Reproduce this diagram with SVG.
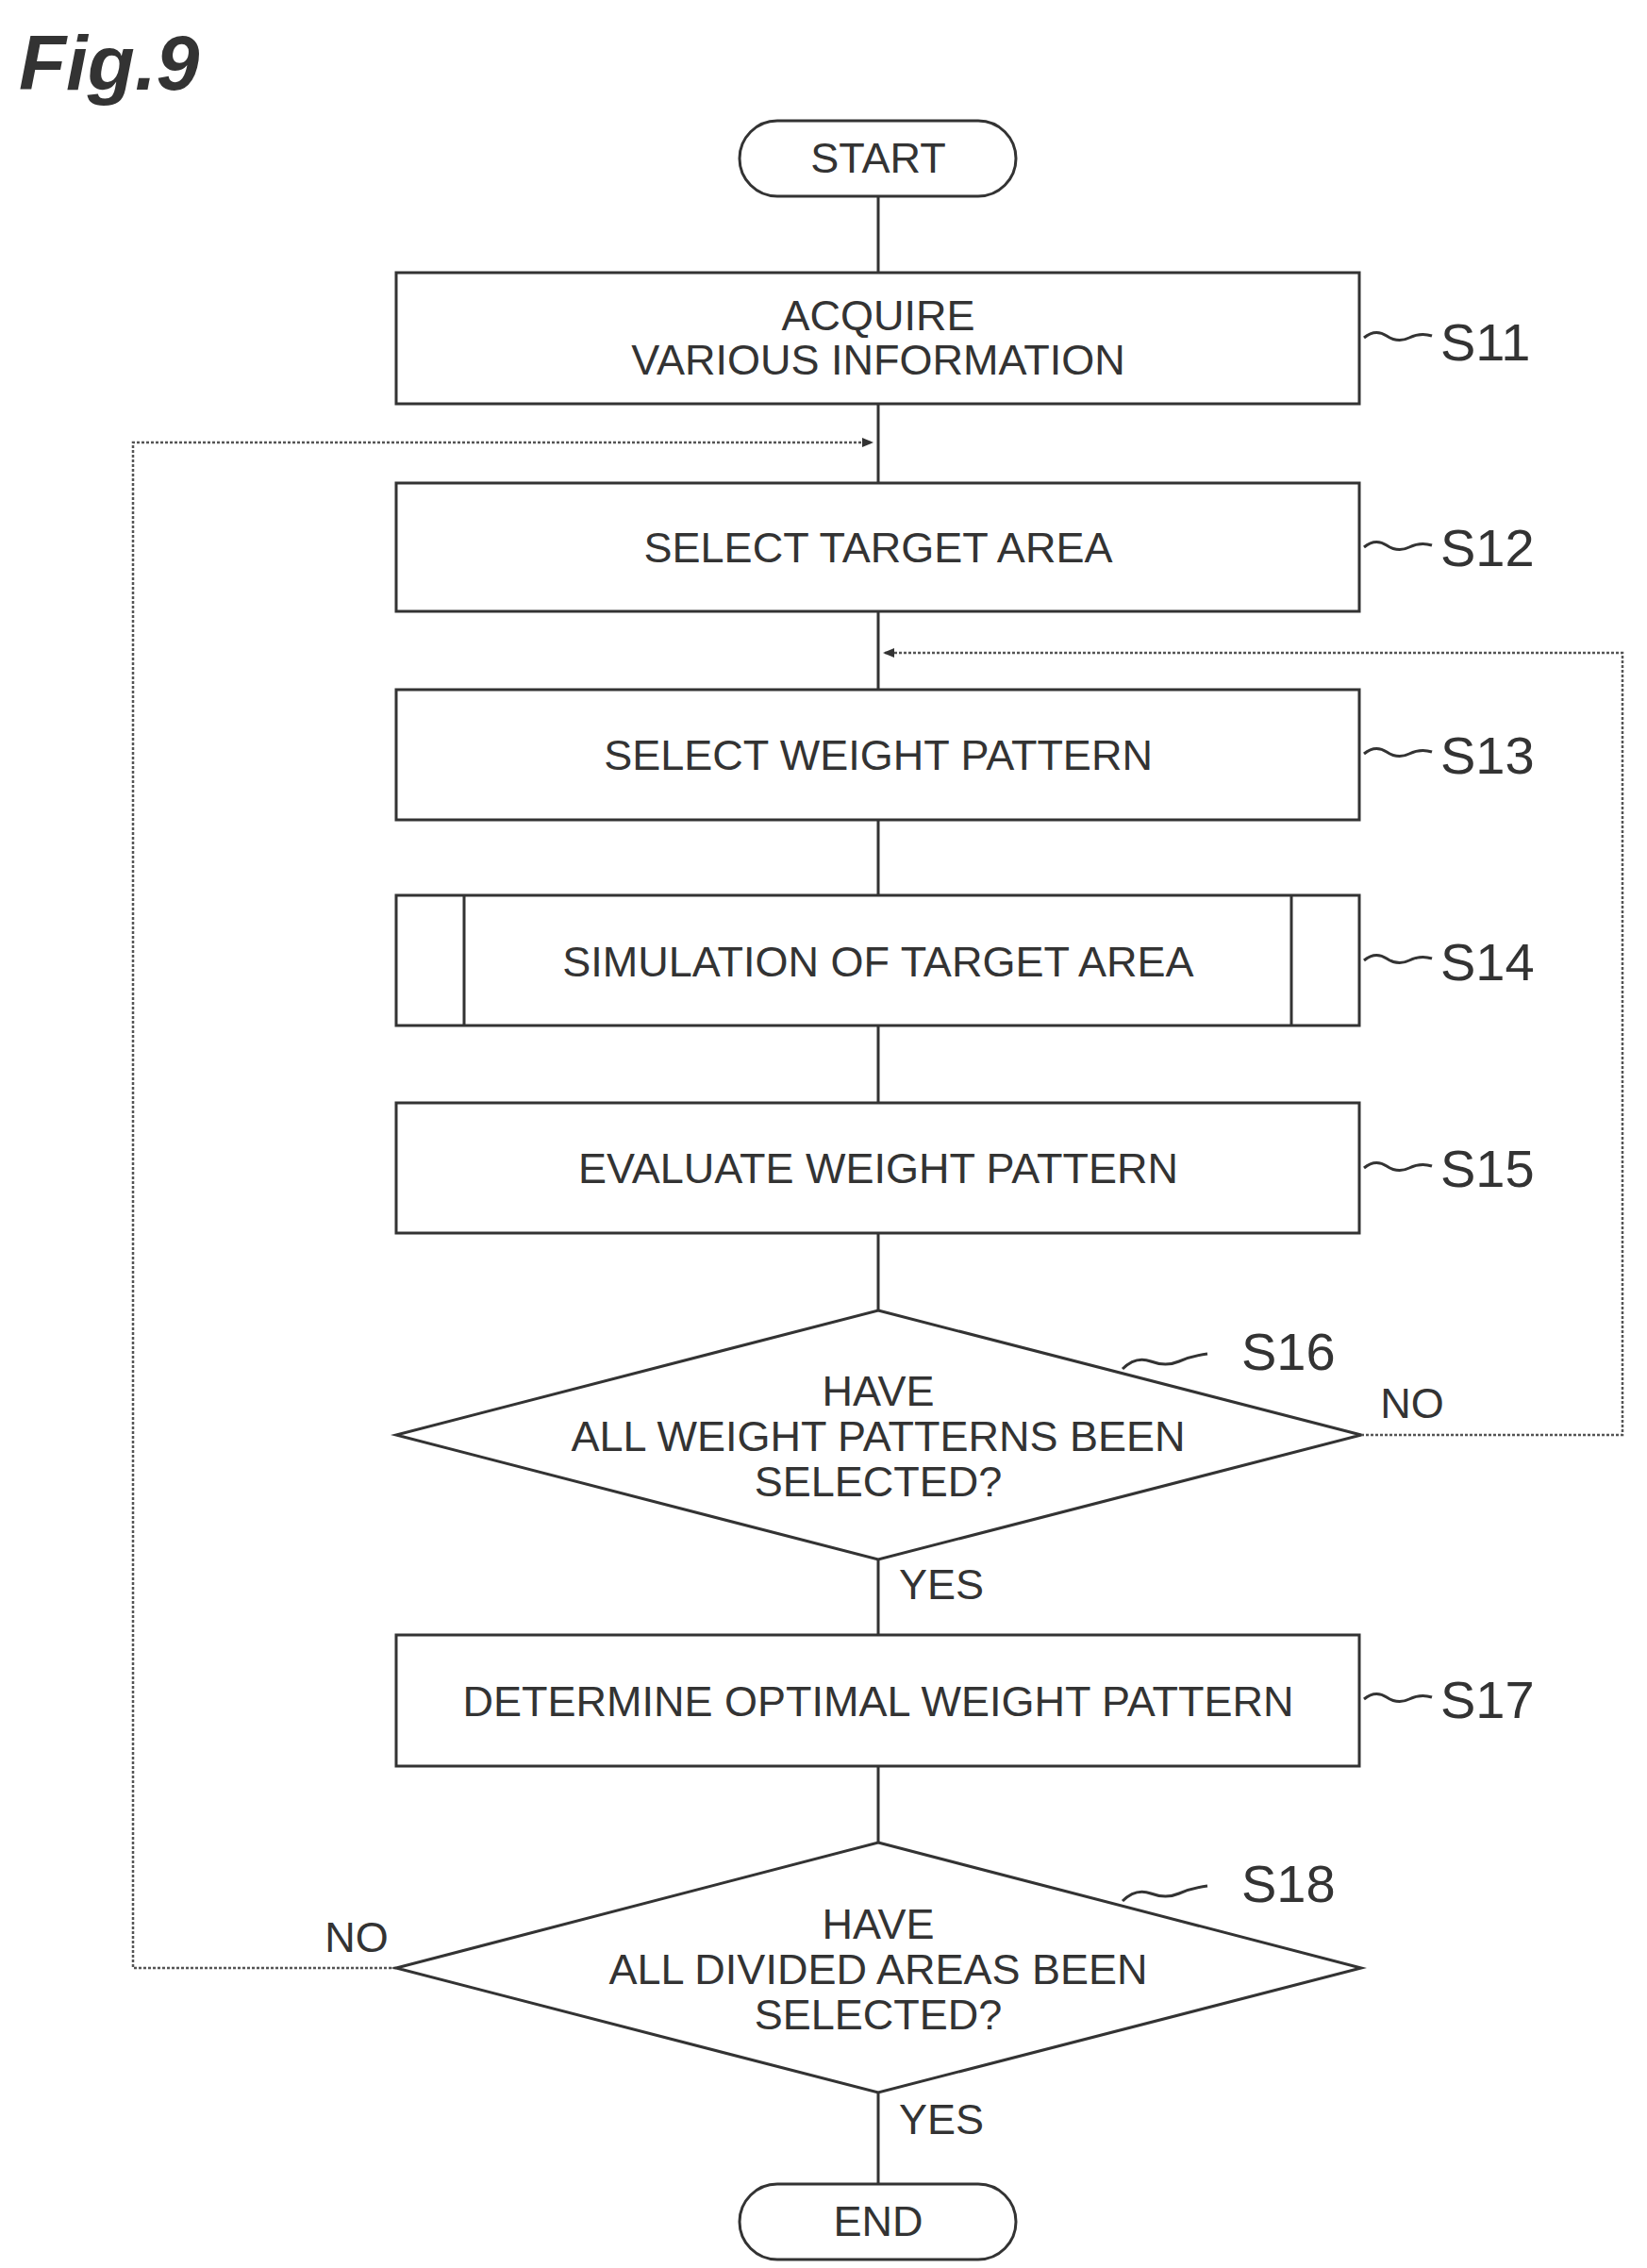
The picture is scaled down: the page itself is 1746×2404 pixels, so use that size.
<svg xmlns="http://www.w3.org/2000/svg" width="1746" height="2404" viewBox="0 0 1746 2404">
<defs>
<style>
.s{fill:none;stroke:#333;stroke-width:3}
.t{font-family:"Liberation Sans",Arial,sans-serif;font-size:45px;fill:#333;text-anchor:middle}
.l{font-family:"Liberation Sans",Arial,sans-serif;font-size:56px;fill:#333}
.d{fill:none;stroke:#555;stroke-width:2.5;stroke-dasharray:3 2}
</style>
<marker id="a" markerWidth="12" markerHeight="10" refX="11" refY="5" orient="auto" markerUnits="userSpaceOnUse"><path d="M0,0 L12,5 L0,10 Z" fill="#333"/></marker>
</defs>
<rect width="1746" height="2404" fill="#fff"/>
<text x="20" y="95" font-family="Liberation Sans,Arial,sans-serif" font-size="82" font-weight="bold" font-style="italic" fill="#333">Fig.9</text>
<g id="connectors">
<path class="s" d="M931 208V289M931 428V512M931 648V731M931 869V949M931 1087V1169M931 1307V1389M931 1653V1733M931 1872V1953M931 2218V2315"/>
<path class="d" d="M420 2086H141V469H925" marker-end="url(#a)"/>
<path class="d" d="M1443 1521H1720V692H937" marker-end="url(#a)"/>
<path class="s" stroke-width="2" d="M1446 358q12-10 24-2t24 2t24-2M1446 580q12-10 24-2t24 2t24-2M1446 799q12-10 24-2t24 2t24-2M1446 1018q12-10 24-2t24 2t24-2M1446 1238q12-10 24-2t24 2t24-2M1446 1801q12-10 24-2t24 2t24-2M1190 1451q14-14 30-8t30 0t30-8M1190 2015q14-14 30-8t30 0t30-8"/>
<text class="t" x="1497" y="1503">NO</text>
<text class="t" x="998" y="1695">YES</text>
<text class="t" x="378" y="2069">NO</text>
<text class="t" x="998" y="2262">YES</text>
</g>
<g id="start"><rect class="s" x="784" y="128" width="293" height="80" rx="40"/><text class="t" x="931" y="183">START</text></g>
<g id="s11"><rect class="s" x="420" y="289" width="1021" height="139"/><text class="t" x="931" y="350">ACQUIRE</text><text class="t" x="931" y="397">VARIOUS INFORMATION</text><text class="l" x="1527" y="382">S11</text></g>
<g id="s12"><rect class="s" x="420" y="512" width="1021" height="136"/><text class="t" x="931" y="596">SELECT TARGET AREA</text><text class="l" x="1527" y="600">S12</text></g>
<g id="s13"><rect class="s" x="420" y="731" width="1021" height="138"/><text class="t" x="931" y="816">SELECT WEIGHT PATTERN</text><text class="l" x="1527" y="820">S13</text></g>
<g id="s14"><rect class="s" x="420" y="949" width="1021" height="138"/><path class="s" d="M492 949V1087M1369 949V1087"/><text class="t" x="931" y="1035">SIMULATION OF TARGET AREA</text><text class="l" x="1527" y="1039">S14</text></g>
<g id="s15"><rect class="s" x="420" y="1169" width="1021" height="138"/><text class="t" x="931" y="1254">EVALUATE WEIGHT PATTERN</text><text class="l" x="1527" y="1258">S15</text></g>
<g id="s16"><path class="s" d="M931 1389L1443 1521L931 1653L420 1521Z"/><text class="t" x="931" y="1490">HAVE</text><text class="t" x="931" y="1538">ALL WEIGHT PATTERNS BEEN</text><text class="t" x="931" y="1586">SELECTED?</text><text class="l" x="1316" y="1452">S16</text></g>
<g id="s17"><rect class="s" x="420" y="1733" width="1021" height="139"/><text class="t" x="931" y="1819">DETERMINE OPTIMAL WEIGHT PATTERN</text><text class="l" x="1527" y="1821">S17</text></g>
<g id="s18"><path class="s" d="M931 1953L1443 2086L931 2218L420 2086Z"/><text class="t" x="931" y="2055">HAVE</text><text class="t" x="931" y="2103">ALL DIVIDED AREAS BEEN</text><text class="t" x="931" y="2151">SELECTED?</text><text class="l" x="1316" y="2016">S18</text></g>
<g id="end"><rect class="s" x="784" y="2315" width="293" height="80" rx="40"/><text class="t" x="931" y="2370">END</text></g>
</svg>
